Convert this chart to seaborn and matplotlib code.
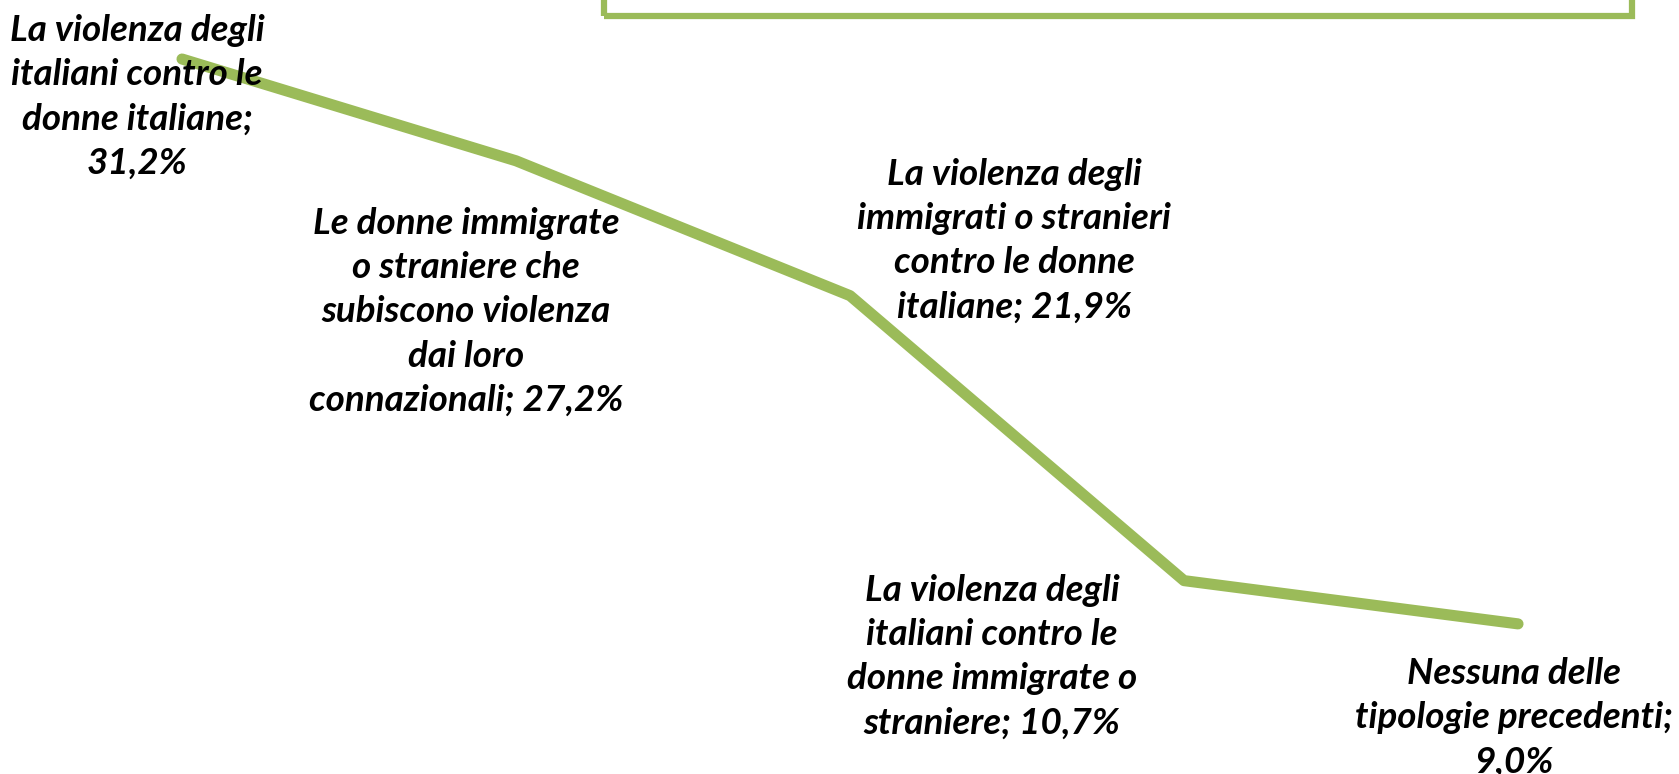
import pandas as pd
import matplotlib.pyplot as plt
import matplotlib.patches as patches
import seaborn as sns

# -----------------------------------------------------------------------------
# Data
# -----------------------------------------------------------------------------
categories = [
    "La violenza degli\nitaliani contro le\ndonne italiane;",
    "Le donne immigrate\no straniere che\nsubiscono violenza\ndai loro\nconnazionali;",
    "La violenza degli\nimmigrati o stranieri\ncontro le donne\nitaliane;",
    "La violenza degli\nitaliani contro le\ndonne immigrate o\nstraniere;",
    "Nessuna delle\ntipologie precedenti;",
]
values = [31.2, 27.2, 21.9, 10.7, 9.0]
value_sep = ["\n", " ", " ", " ", "\n"]

# label offsets from each point, in pixels (x right, y up)
label_offsets = [(-45, -38), (-50, -151), (164, 55), (-192, -76), (-4, -94)]

GREEN = "#9BBB59"

sns.set_style("white")
plt.rcParams['font.family'] = ['Lato', 'DejaVu Sans']

df = pd.DataFrame({"pos": range(len(values)), "value": values})

fig = plt.figure(figsize=(16.79, 7.74), dpi=100)
ax = fig.add_axes([0, 0, 1, 1])

sns.lineplot(data=df, x="pos", y="value", ax=ax, color=GREEN, linewidth=8,
             solid_capstyle='round', solid_joinstyle='round')

for i, (cat, v) in enumerate(zip(categories, values)):
    label = cat + value_sep[i] + f"{v:.1f}%".replace(".", ",")
    ax.annotate(label, xy=(i, v), xytext=label_offsets[i], textcoords='offset pixels',
                ha='center', va='center', multialignment='center',
                fontsize=26.5, fontweight='bold', fontstyle='italic',
                linespacing=1.42, color='black')

ax.set_xlim(-0.545, 4.482)
ax.set_ylim(3.1, 33.52)
ax.axis('off')

# green box at the top (partly outside the figure)
box = patches.Rectangle((0.360, 0.979), 0.612, 0.2, transform=fig.transFigure,
                        fill=False, edgecolor=GREEN, linewidth=4.5)
fig.patches.append(box)

fig.savefig("out.png", dpi=100, facecolor='white')
